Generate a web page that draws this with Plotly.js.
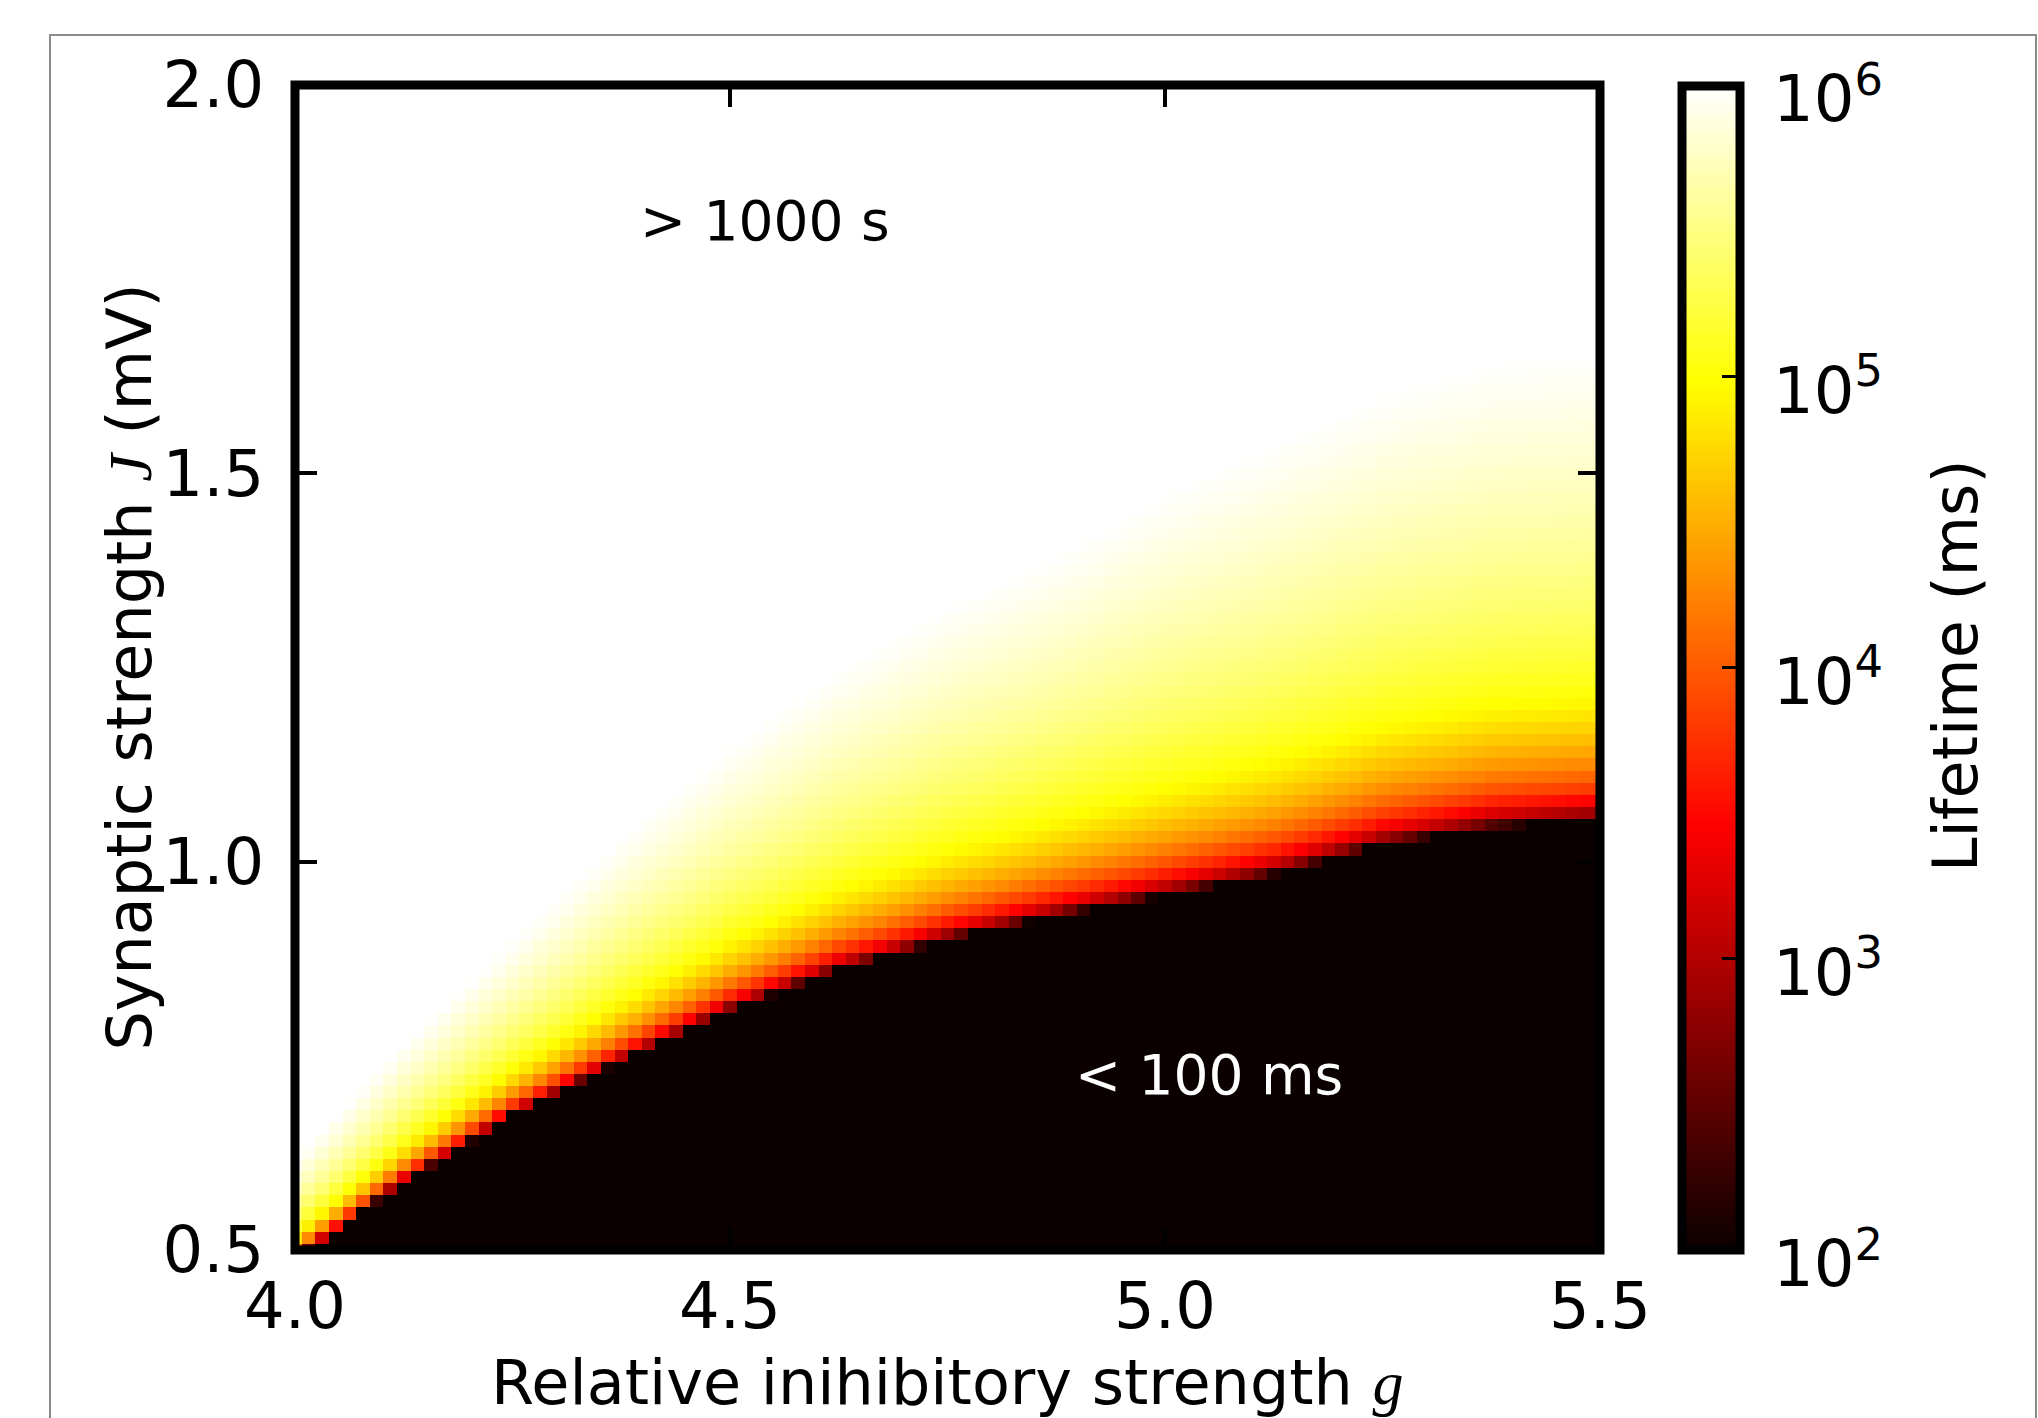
<!DOCTYPE html>
<html>
<head>
<meta charset="utf-8">
<script src="https://cdn.plot.ly/plotly-3.0.1.min.js"></script>
<style>html,body{margin:0;padding:0;background:#fff;}#chart{width:2038px;height:1418px;}</style>
</head>
<body>
<div id="chart"></div>
<script>
// ---- Data ----
// Sample positions along g (relative inhibitory strength)
const gSample = [4.0, 4.0625, 4.125, 4.25, 4.375, 4.5, 4.625, 4.75, 4.875, 5.0, 5.125, 5.25, 5.375, 5.5];
// J (mV) of the lifetime contours at each sampled g
const J_1e2 = [0.485, 0.535, 0.585, 0.670, 0.740, 0.804, 0.857, 0.895, 0.925, 0.951, 0.978, 1.015, 1.037, 1.047];
const J_1e3 = [0.489, 0.540, 0.591, 0.677, 0.749, 0.815, 0.869, 0.908, 0.939, 0.967, 0.995, 1.033, 1.056, 1.066];
const J_1e4 = [0.498, 0.550, 0.603, 0.692, 0.768, 0.837, 0.895, 0.937, 0.971, 1.002, 1.032, 1.072, 1.096, 1.106];
const J_1e5 = [0.521, 0.578, 0.635, 0.733, 0.820, 0.899, 0.965, 1.015, 1.055, 1.096, 1.133, 1.178, 1.205, 1.215];
const J_1e6 = [0.615, 0.690, 0.765, 0.897, 1.028, 1.146, 1.246, 1.327, 1.393, 1.473, 1.536, 1.602, 1.642, 1.652];
// Simulation grid (cell centres)
const gStart = 4.0, gEnd = 5.5, jStart = 0.5, jEnd = 2.0, nCells = 96;
// Axis ticks
const xTickVals = [4.0, 4.5, 5.0, 5.5];
const xTickText = ['4.0', '4.5', '5.0', '5.5'];
const yTickVals = [0.5, 1.0, 1.5, 2.0];
const yTickText = ['0.5', '1.0', '1.5', '2.0'];
const cbTickVals = [2, 3, 4, 5, 6];
const cbTickText = ['10<sup>2</sup>', '10<sup>3</sup>', '10<sup>4</sup>', '10<sup>5</sup>', '10<sup>6</sup>'];
const labelHigh = '> 1000 s', labelHighPos = [4.54, 1.825];
const labelLow = '< 100 ms', labelLowPos = [5.05, 0.725];

// ---- Build the lifetime field from the contour lines ----
const gGrid = [], jGrid = [];
for (let k = 0; k <= nCells; k++) {
  gGrid.push(gStart + (gEnd - gStart) * k / nCells);
  jGrid.push(jStart + (jEnd - jStart) * k / nCells);
}
function interp(xs, ys, x) {
  for (let i = 0; i < xs.length - 1; i++) {
    if (x <= xs[i + 1] || i === xs.length - 2) {
      return ys[i] + (ys[i + 1] - ys[i]) * (x - xs[i]) / (xs[i + 1] - xs[i]);
    }
  }
}
function logLifetime(g, J) {
  const c = [J_1e2, J_1e3, J_1e4, J_1e5, J_1e6].map(a => interp(gSample, a, g));
  if (J <= c[0]) return 1.9;
  const L = Math.log10(J - c[0]);
  const Ls = [1, 2, 3, 4].map(k => Math.log10(c[k] - c[0]));
  if (L >= Ls[3]) return 6.1;
  if (L < Ls[0]) return Math.max(1.9, 3 + (L - Ls[0]) / (Ls[1] - Ls[0]));
  for (let k = 0; k < 3; k++) {
    if (L < Ls[k + 1]) return 3 + k + (L - Ls[k]) / (Ls[k + 1] - Ls[k]);
  }
  return 6.1;
}
const zField = jGrid.map(J => gGrid.map(g => logLifetime(g, J)));

// matplotlib "hot"
const hotScale = [[0, 'rgb(11,0,0)'], [0.365079, 'rgb(255,0,0)'], [0.746032, 'rgb(255,255,0)'], [1, 'rgb(255,255,255)']];

// ---- Geometry (pixels) ----
const W = 2038, H = 1418;
const L0 = 295, R0 = 1600, T0 = 85, B0 = 1250, PR = 1760;
const pw = PR - L0, ph = B0 - T0;
const px = x => (x - L0) / pw;
const py = y => (B0 - y) / ph;
const FONT = 'DejaVu Sans, Bitstream Vera Sans, sans-serif';

const heat = {
  type: 'heatmap', x: gGrid, y: jGrid, z: zField,
  zmin: 2, zmax: 6, colorscale: hotScale, hoverinfo: 'skip',
  colorbar: {
    thickness: 58, thicknessmode: 'pixels', len: 1164, lenmode: 'pixels',
    x: px(1682), xanchor: 'left', xpad: 0, y: 0.5, yanchor: 'middle', ypad: 0,
    outlinewidth: 9, outlinecolor: 'black',
    tickmode: 'array', tickvals: cbTickVals, ticktext: cbTickText,
    ticks: 'inside', ticklen: 22, tickwidth: 3, tickcolor: 'black',
    showticklabels: false
  }
};
// carrier for the colour-scale labels (same 10^2..10^6 scale as the colour bar)
const scaleCarrier = {type: 'scatter', x: [null], y: [null], yaxis: 'y2', mode: 'markers',
  showlegend: false, hoverinfo: 'skip'};

const axisCommon = {
  ticks: 'inside', ticklen: 22, tickwidth: 4, tickcolor: 'black',
  showline: true, linewidth: 1, linecolor: 'black', mirror: 'ticks',
  showgrid: false, zeroline: false, tickmode: 'array',
  tickfont: {family: FONT, size: 64, color: 'black'}
};

const layout = {
  width: W, height: H,
  margin: {l: L0, r: W - PR, t: T0, b: H - B0, pad: 0},
  paper_bgcolor: 'white', plot_bgcolor: 'white',
  font: {family: FONT, color: 'black'},
  showlegend: false,
  xaxis: Object.assign({}, axisCommon, {domain: [0, (R0 - L0) / pw], range: [gStart, gEnd],
    tickvals: xTickVals, ticktext: xTickText}),
  yaxis: Object.assign({}, axisCommon, {range: [jStart, jEnd], tickvals: yTickVals, ticktext: yTickText,
    ticklabelstandoff: 17}),
  yaxis2: {overlaying: 'y', side: 'right', anchor: 'free', position: px(1744),
    range: [2, 6], tickmode: 'array', tickvals: cbTickVals, ticktext: cbTickText,
    ticks: '', showline: false, showgrid: false, zeroline: false,
    ticklabelstandoff: 28, ticklabelshift: 14,
    tickfont: {family: FONT, size: 64, color: 'black'}},
  shapes: [
    {type: 'rect', xref: 'x domain', yref: 'y domain', x0: 0, x1: 1, y0: 0, y1: 1,
     line: {color: 'black', width: 9}, layer: 'above'},
    {type: 'rect', xref: 'paper', yref: 'paper', x0: px(50), x1: px(2036), y0: py(1440), y1: py(35),
     line: {color: '#8c8c8c', width: 2}, layer: 'below'}
  ],
  annotations: [
    {text: labelHigh, x: labelHighPos[0], y: labelHighPos[1], xref: 'x', yref: 'y', showarrow: false,
     font: {family: FONT, size: 55, color: 'black'}},
    {text: labelLow, x: labelLowPos[0], y: labelLowPos[1], xref: 'x', yref: 'y', showarrow: false,
     font: {family: FONT, size: 55, color: 'white'}},
    {text: 'Relative inihibitory strength <span style="font-family:Liberation Serif"><i>g</i></span>',
     xref: 'paper', yref: 'paper', x: px(947.5), y: py(1382), xanchor: 'center', yanchor: 'middle',
     showarrow: false, font: {family: FONT, size: 62, color: 'black'}},
    {text: 'Synaptic strength <span style="font-family:Liberation Serif"><i>J</i></span> (mV)',
     xref: 'paper', yref: 'paper', x: px(129), y: 0.5, xanchor: 'center', yanchor: 'middle', textangle: -90,
     showarrow: false, font: {family: FONT, size: 62, color: 'black'}},
    {text: 'Lifetime (ms)', xref: 'paper', yref: 'paper', x: px(1955), y: py(666),
     xanchor: 'center', yanchor: 'middle', textangle: -90,
     showarrow: false, font: {family: FONT, size: 62, color: 'black'}}
  ]
};

Plotly.newPlot('chart', [heat, scaleCarrier], layout, {staticPlot: true, displayModeBar: false});
</script>
</body>
</html>
